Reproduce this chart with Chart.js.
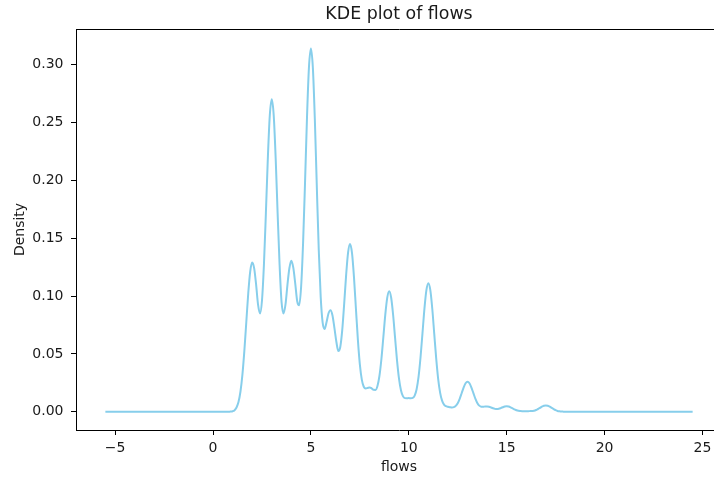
<!DOCTYPE html>
<html>
<head>
<meta charset="utf-8">
<title>KDE plot of flows</title>
<script src="https://cdn.jsdelivr.net/npm/chart.js@4.4.0/dist/chart.umd.min.js"></script>
<style>
  html, body { margin: 0; padding: 0; background: #fff; overflow: hidden; }
</style>
</head>
<body>
<!-- the axes box runs a little past the right edge of the window, as in the original -->
<canvas id="kde" width="722" height="477"></canvas>
<script>
// values
var flows = [
  -5.5, -3, 0, 0.5, 0.8, 0.9,
  1.0, 1.1, 1.2, 1.3, 1.4, 1.5, 1.6, 1.7, 1.8, 1.9,
  2.0, 2.1, 2.2, 2.3, 2.4, 2.5, 2.6, 2.7, 2.8, 2.9,
  3.0, 3.1, 3.2, 3.3, 3.4, 3.5, 3.6, 3.7, 3.8, 3.9,
  4.0, 4.1, 4.2, 4.3, 4.4, 4.5, 4.6, 4.7, 4.8, 4.9,
  5.0, 5.1, 5.2, 5.3, 5.4, 5.5, 5.6, 5.7, 5.8, 5.9,
  6.0, 6.1, 6.2, 6.3, 6.4, 6.5, 6.6, 6.7, 6.8, 6.9,
  7.0, 7.1, 7.2, 7.3, 7.4, 7.5, 7.6, 7.7, 7.8, 7.9,
  8.0, 8.1, 8.2, 8.3, 8.4, 8.5, 8.6, 8.7, 8.8, 8.9,
  9.0, 9.1, 9.2, 9.3, 9.4, 9.5, 9.6, 9.7, 9.8, 9.9,
  10.0, 10.1, 10.2, 10.3, 10.4, 10.5, 10.6, 10.7, 10.8, 10.9,
  11.0, 11.1, 11.2, 11.3, 11.4, 11.5, 11.6, 11.7, 11.8, 11.9,
  12.0, 12.1, 12.2, 12.3, 12.4, 12.5, 12.6, 12.7, 12.8, 12.9,
  13.0, 13.1, 13.2, 13.3, 13.4, 13.5, 13.6, 13.7, 13.8, 13.9,
  14.0, 14.1, 14.2, 14.3, 14.4, 14.5, 14.6, 14.7, 14.8, 14.9,
  15.0, 15.1, 15.2, 15.3, 15.4, 15.5, 15.6, 15.7, 15.8, 15.9,
  16.0, 16.1, 16.2, 16.3, 16.4, 16.5, 16.6, 16.7, 16.8, 16.9,
  17.0, 17.1, 17.2, 17.3, 17.4, 17.5, 17.6, 17.7, 17.8, 17.9,
  18.0, 20, 22, 24.5
];
var density = [
  0, 0, 0, 0, 0.00004, 0.0002,
  0.0005, 0.0014, 0.0037, 0.0084, 0.0173, 0.0319, 0.0526, 0.0776, 0.1026, 0.1214,
  0.1290, 0.1241, 0.1100, 0.0925, 0.0850, 0.0960, 0.1270, 0.1715, 0.2192, 0.2561,
  0.2700, 0.2561, 0.2191, 0.1714, 0.1270, 0.0950, 0.0850, 0.0925, 0.1095, 0.1240,
  0.1305, 0.1245, 0.1108, 0.0955, 0.0920, 0.1080, 0.1458, 0.1981, 0.2543, 0.2976,
  0.3138, 0.2972, 0.2532, 0.1955, 0.1402, 0.0993, 0.0770, 0.0715, 0.0775, 0.0851,
  0.0878, 0.0834, 0.0725, 0.0605, 0.0525, 0.0560, 0.0705, 0.0934, 0.1183, 0.1378,
  0.1450, 0.1371, 0.1164, 0.0890, 0.0621, 0.0410, 0.0278, 0.0216, 0.0201, 0.0206,
  0.0210, 0.0203, 0.0190, 0.0189, 0.0223, 0.0309, 0.0454, 0.0644, 0.0839, 0.0986,
  0.1041, 0.0985, 0.0836, 0.0638, 0.0442, 0.0286, 0.0186, 0.0135, 0.0118, 0.0117,
  0.0118, 0.0117, 0.0120, 0.0140, 0.0195, 0.0303, 0.0471, 0.0680, 0.0892, 0.1051,
  0.1111, 0.1051, 0.0890, 0.0675, 0.0461, 0.0285, 0.0166, 0.0096, 0.0062, 0.0048,
  0.0043, 0.0040, 0.0038, 0.0040, 0.0051, 0.0074, 0.0112, 0.0160, 0.0209, 0.0246,
  0.0260, 0.0247, 0.0209, 0.0161, 0.0113, 0.0076, 0.0053, 0.0044, 0.0043, 0.0046,
  0.0046, 0.0044, 0.0037, 0.0030, 0.0025, 0.0023, 0.0026, 0.0032, 0.0039, 0.0046,
  0.0048, 0.0045, 0.0038, 0.0029, 0.0021, 0.0013, 0.0008, 0.0006, 0.0005, 0.0005,
  0.0005, 0.0005, 0.0006, 0.0007, 0.0009, 0.0015, 0.0024, 0.0033, 0.0044, 0.0052,
  0.0055, 0.0052, 0.0044, 0.0033, 0.0023, 0.0014, 0.0007, 0.0004, 0.0002, 0.0001,
  0, 0, 0, 0
];
var xTicks = [-5, 0, 5, 10, 15, 20, 25];
var yTicks = [0, 0.05, 0.10, 0.15, 0.20, 0.25, 0.30];

var points = flows.map(function (f, i) { return { x: f, y: density[i] }; });

var font = { family: 'DejaVu Sans', size: 14 };
var ink = '#1a1a1a';

new Chart(document.getElementById('kde'), {
  type: 'line',
  data: {
    datasets: [{
      data: points,
      borderColor: '#87ceeb',
      borderWidth: 2,
      pointRadius: 0,
      fill: false,
      cubicInterpolationMode: 'monotone'
    }]
  },
  options: {
    responsive: false,
    animation: false,
    devicePixelRatio: 1,
    layout: { padding: 0 },
    plugins: {
      legend: { display: false },
      tooltip: { enabled: false },
      title: { display: false }
    },
    scales: {
      x: {
        type: 'linear',
        min: -7,
        max: 26,
        afterBuildTicks: function (s) { s.ticks = xTicks.map(function (v) { return { value: v }; }); },
        afterFit: function (s) { s.height = 47; },
        ticks: { color: ink, font: font, padding: 5, maxRotation: 0, autoSkip: false,
                 callback: function (v) { return v < 0 ? '\u2212' + Math.abs(v) : String(v); } },
        grid: { drawOnChartArea: false, drawTicks: true, tickLength: 5, color: '#000' },
        border: { color: '#000', width: 1 },
        title: { display: true, text: 'flows', color: ink, font: font, padding: { top: 0, bottom: 1 } }
      },
      // top edge of the box, carries the plot title centred over the axes
      top: {
        type: 'linear',
        position: 'top',
        min: -7,
        max: 26,
        afterFit: function (s) { s.height = 29; },
        ticks: { display: false },
        grid: { display: false },
        border: { display: true, color: '#000', width: 1 },
        title: { display: true, text: 'KDE plot of flows', color: ink,
                 font: { family: 'DejaVu Sans', size: 17.4 }, padding: { top: 4.5, bottom: 0 } }
      },
      y: {
        min: -0.01575,
        max: 0.33075,
        afterBuildTicks: function (s) { s.ticks = yTicks.map(function (v) { return { value: v }; }); },
        afterFit: function (s) { s.width = 76; },
        ticks: { color: ink, font: font, padding: 7.5,
                 callback: function (v) { return v.toFixed(2); } },
        grid: { drawOnChartArea: false, drawTicks: true, tickLength: 5, color: '#000' },
        border: { color: '#000', width: 1 },
        title: { display: true, text: 'Density', color: ink, font: font, padding: { top: 11.5, bottom: 0 } }
      }
    }
  }
});
</script>
</body>
</html>
